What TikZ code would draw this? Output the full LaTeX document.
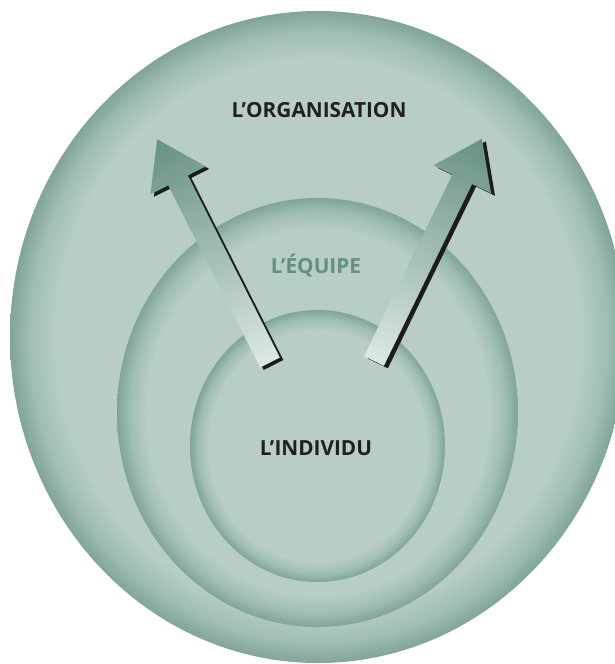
\documentclass[tikz,border=0pt]{standalone}
\usepackage{fontspec}
\setmainfont{Open Sans}
\definecolor{discL}{RGB}{184,205,198}
\definecolor{discM}{RGB}{160,190,180}
\definecolor{discD}{RGB}{128,165,151}
\definecolor{arrD}{RGB}{102,145,129}
\definecolor{arrL}{RGB}{220,232,227}
\definecolor{txtD}{RGB}{35,31,32}
\definecolor{txtG}{RGB}{96,144,128}
\definecolor{shad}{RGB}{30,27,28}
\pgfdeclareradialshading{pillow}{\pgfpoint{0bp}{0bp}}{color(0bp)=(discL); color(21.3bp)=(discL); color(23.4bp)=(discM); color(25bp)=(discD); color(50bp)=(discD)}
\begin{document}
\begin{tikzpicture}[x=1pt,y=-1pt,
  disc/.style={shading=pillow},
  lbl/.style={font=\fontsize{20.8}{24}\selectfont\bfseries, inner sep=0pt, anchor=base},
  arrfill/.style={left color=arrL, right color=arrD},
  arrshadow/.style={fill=shad}
]
\useasboundingbox (0,0) rectangle (615,664);
\begin{scope}
  \clip (0,0) rectangle (615,664);
  \shade[disc] (318,337) ellipse [x radius=308, y radius=326];
\end{scope}
\shade[disc] (317.5,412.5) ellipse [x radius=200.5, y radius=214.5];
\shade[disc] (317.5,446) ellipse [x radius=127.5, y radius=136];

\coordinate (ltail) at (270,362.5);
\coordinate (lshad) at (273.5,365);
\coordinate (rtail) at (374,361);
\coordinate (rshad) at (378,363.5);

% left arrow
\fill[arrshadow, transform canvas={shift={(lshad)}, rotate=116.8}]
  (0,-11) -- (204,-11) -- (204,-31) -- (250,0) -- (204,31) -- (204,11) -- (0,11) -- cycle;
\shade[arrfill, transform canvas={shift={(ltail)}, rotate=116.8}]
  (0,-11) -- (204,-11) -- (204,-31) -- (250,0) -- (204,31) -- (204,11) -- (0,11) -- cycle;
% right arrow
\fill[arrshadow, transform canvas={shift={(rshad)}, rotate=64.1}]
  (0,-11) -- (202,-11) -- (202,-32) -- (247,0) -- (202,32) -- (202,11) -- (0,11) -- cycle;
\shade[arrfill, transform canvas={shift={(rtail)}, rotate=64.1}]
  (0,-11) -- (202,-11) -- (202,-32) -- (247,0) -- (202,32) -- (202,11) -- (0,11) -- cycle;

\node[lbl, text=txtD] (org) at (319,117) {L’ORGANISATION};
\node[lbl, text=txtG] (equipe) at (316,273.5) {L’ÉQUIPE};
\node[lbl, text=txtD] (indiv) at (316,455) {L’INDIVIDU};
\end{tikzpicture}
\end{document}
